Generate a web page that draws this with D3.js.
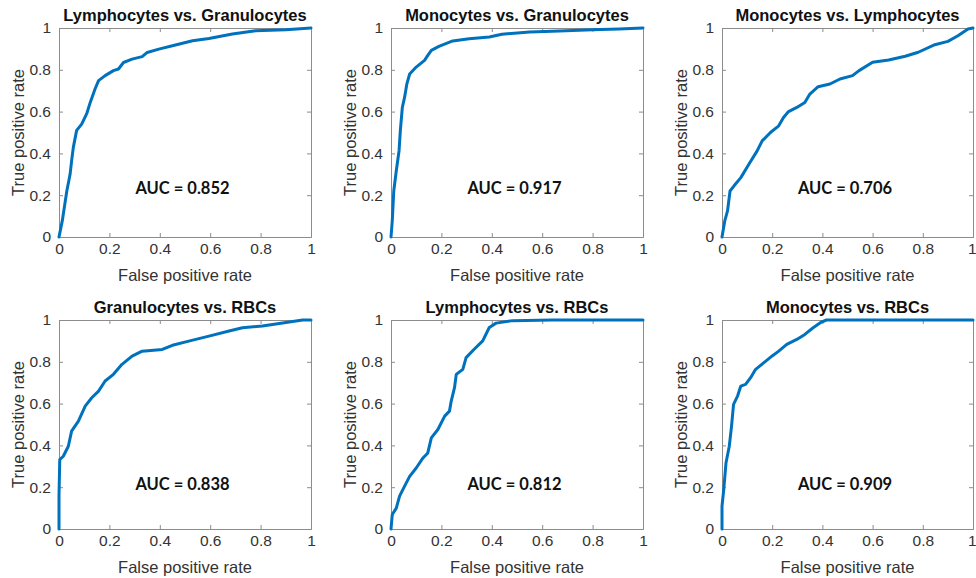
<!DOCTYPE html>
<html>
<head>
<meta charset="utf-8">
<script src="https://cdn.jsdelivr.net/npm/d3@7"></script>
<style>
  body { margin: 0; background: #fff; }
  svg { display: block; }
</style>
</head>
<body>
<div id="roc"></div>
<script>
// 1. DATA
const titles = [
    "Lymphocytes vs. Granulocytes",
    "Monocytes vs. Granulocytes",
    "Monocytes vs. Lymphocytes",
    "Granulocytes vs. RBCs",
    "Lymphocytes vs. RBCs",
    "Monocytes vs. RBCs"
]
const aucValues = ["0.852", "0.917", "0.706", "0.838", "0.812", "0.909"]
const tickValues = [0, 0.2, 0.4, 0.6, 0.8, 1]

const lymGranFpr = [0, 0.013, 0.031, 0.044, 0.05, 0.057, 0.07, 0.09, 0.11, 0.124, 0.143, 0.157, 0.183, 0.216, 0.236, 0.256, 0.29, 0.33, 0.35, 0.396, 0.45, 0.53, 0.595, 0.688, 0.78, 0.9, 1]
const lymGranTpr = [0, 0.077, 0.22, 0.30, 0.364, 0.43, 0.51, 0.54, 0.59, 0.644, 0.708, 0.748, 0.772, 0.796, 0.804, 0.835, 0.851, 0.863, 0.883, 0.899, 0.915, 0.939, 0.95, 0.971, 0.987, 0.992, 1]

const monoGranFpr = [0, 0.005, 0.011, 0.021, 0.032, 0.037, 0.045, 0.054, 0.063, 0.074, 0.1, 0.133, 0.146, 0.16, 0.19, 0.245, 0.31, 0.39, 0.44, 0.55, 0.668, 0.8, 0.905, 1]
const monoGranTpr = [0, 0.077, 0.22, 0.317, 0.413, 0.509, 0.62, 0.669, 0.733, 0.78, 0.813, 0.845, 0.869, 0.893, 0.912, 0.938, 0.949, 0.957, 0.97, 0.981, 0.986, 0.992, 0.995, 1]

const monoLymFpr = [0, 0.011, 0.022, 0.032, 0.048, 0.075, 0.107, 0.14, 0.16, 0.193, 0.226, 0.245, 0.265, 0.298, 0.33, 0.35, 0.383, 0.43, 0.47, 0.52, 0.546, 0.6, 0.664, 0.73, 0.782, 0.848, 0.9, 0.94, 0.98, 1]
const monoLymTpr = [0, 0.077, 0.125, 0.22, 0.245, 0.284, 0.348, 0.412, 0.46, 0.5, 0.532, 0.572, 0.6, 0.62, 0.644, 0.684, 0.719, 0.732, 0.756, 0.772, 0.796, 0.836, 0.847, 0.865, 0.884, 0.92, 0.936, 0.963, 0.995, 1]

const granRbcFpr = [0, 0, 0.003, 0.017, 0.037, 0.05, 0.077, 0.104, 0.13, 0.157, 0.183, 0.216, 0.25, 0.29, 0.33, 0.41, 0.45, 0.515, 0.595, 0.675, 0.728, 0.807, 0.914, 0.967, 1]
const granRbcTpr = [0, 0.157, 0.332, 0.348, 0.396, 0.468, 0.516, 0.588, 0.628, 0.66, 0.708, 0.74, 0.788, 0.827, 0.851, 0.859, 0.879, 0.899, 0.923, 0.947, 0.963, 0.971, 0.99, 1, 1]

const lymRbcFpr = [0, 0.005, 0.021, 0.034, 0.054, 0.074, 0.1, 0.127, 0.146, 0.16, 0.186, 0.213, 0.232, 0.239, 0.252, 0.259, 0.285, 0.298, 0.33, 0.364, 0.39, 0.417, 0.483, 0.64, 1]
const lymRbcTpr = [0, 0.069, 0.1, 0.157, 0.205, 0.252, 0.292, 0.34, 0.364, 0.436, 0.476, 0.54, 0.564, 0.612, 0.676, 0.74, 0.764, 0.82, 0.86, 0.9, 0.964, 0.985, 0.997, 1, 1]

const monoRbcFpr = [0, 0, 0.007, 0.016, 0.029, 0.038, 0.046, 0.062, 0.075, 0.094, 0.114, 0.134, 0.167, 0.2, 0.226, 0.258, 0.298, 0.33, 0.363, 0.396, 0.416, 1]
const monoRbcTpr = [0, 0.109, 0.189, 0.317, 0.396, 0.492, 0.596, 0.636, 0.684, 0.692, 0.724, 0.764, 0.796, 0.828, 0.851, 0.883, 0.907, 0.931, 0.963, 0.99, 1, 1]

const curves = [
    [lymGranFpr, lymGranTpr],
    [monoGranFpr, monoGranTpr],
    [monoLymFpr, monoLymTpr],
    [granRbcFpr, granRbcTpr],
    [lymRbcFpr, lymRbcTpr],
    [monoRbcFpr, monoRbcTpr]
]

// 2. DIMENSIONS
const dimensions = {
    width: 976,
    height: 578,
    plotWidth: 252,
    plotHeight: 209,
    lefts: [59, 391, 722],
    tops: [28, 320]
}

// 3. DRAW CANVAS
const wrapper = d3.select("#roc")
    .append("svg")
    .attr("width", dimensions.width)
    .attr("height", dimensions.height)

const axisColor = "#8c8c8c"
const textColor = "#333"
const lineColor = "#0072BD"
const sans = "Liberation Sans, Arial, sans-serif"

curves.forEach(([fpr, tpr], i) => {
    const col = i % 3
    const row = Math.floor(i / 3)
    const w = col === 2 ? dimensions.plotWidth - 1 : dimensions.plotWidth
    const h = dimensions.plotHeight

    const bounds = wrapper.append("g")
        .attr("transform", `translate(${dimensions.lefts[col]},${dimensions.tops[row]})`)

    // 4. SCALES
    const xScale = d3.scaleLinear().domain([0, 1]).range([0, w])
    const yScale = d3.scaleLinear().domain([0, 1]).range([h, 0])

    // 6. PERIPHERALS (box + inward ticks on all sides)
    const fmt = d => d === 0 || d === 1 ? String(d) : d3.format(".1f")(d)

    const xAxis = bounds.append("g")
        .attr("transform", `translate(0,${h})`)
        .call(d3.axisBottom(xScale).tickValues(tickValues).tickSize(-4).tickPadding(6).tickFormat(fmt))
    const yAxis = bounds.append("g")
        .call(d3.axisLeft(yScale).tickValues(tickValues).tickSize(-4).tickPadding(8).tickFormat(fmt))
    const xTop = bounds.append("g")
        .call(d3.axisTop(xScale).tickValues(tickValues).tickSize(-4).tickFormat(""))
    const yRight = bounds.append("g")
        .attr("transform", `translate(${w},0)`)
        .call(d3.axisRight(yScale).tickValues(tickValues).tickSize(-4).tickFormat(""))

    ;[xAxis, yAxis, xTop, yRight].forEach(a => {
        a.select(".domain").attr("stroke", axisColor).attr("stroke-width", 1)
        a.selectAll(".tick line").attr("stroke", axisColor)
        a.selectAll(".tick text")
            .attr("fill", textColor)
            .style("font-family", sans)
            .style("font-size", "15.5px")
    })

    // last panel column sits on the page edge: keep its "1" inside
    if (col === 2) {
        xAxis.selectAll(".tick text")
            .filter(d => d === 1)
            .attr("text-anchor", "end")
            .attr("x", 3)
    }

    // 5. DRAW DATA
    const points = fpr.map((x, k) => [x, tpr[k]])
    const lineGenerator = d3.line()
        .x(d => xScale(d[0]))
        .y(d => yScale(d[1]))

    bounds.append("path")
        .datum(points)
        .attr("d", lineGenerator)
        .attr("fill", "none")
        .attr("stroke", lineColor)
        .attr("stroke-width", 3)
        .attr("stroke-linejoin", "round")
        .attr("stroke-linecap", "round")

    // labels
    bounds.append("text")
        .attr("x", w / 2)
        .attr("y", -7)
        .attr("text-anchor", "middle")
        .attr("fill", "#111")
        .style("font-family", sans)
        .style("font-weight", "bold")
        .style("font-size", "16.5px")
        .text(titles[i])

    bounds.append("text")
        .attr("x", w / 2)
        .attr("y", h + 44)
        .attr("text-anchor", "middle")
        .attr("fill", textColor)
        .style("font-family", sans)
        .style("font-size", "16.5px")
        .text("False positive rate")

    bounds.append("text")
        .attr("transform", `translate(${-35},${h / 2}) rotate(-90)`)
        .attr("text-anchor", "middle")
        .attr("fill", textColor)
        .style("font-family", sans)
        .style("font-size", "16.5px")
        .text("True positive rate")

    bounds.append("text")
        .attr("x", xScale(0.49))
        .attr("y", yScale(row === 0 ? 0.235 : 0.215))
        .attr("dy", "0.35em")
        .attr("text-anchor", "middle")
        .attr("fill", "#111")
        .style("font-family", "Lato, Carlito, sans-serif")
        .style("font-weight", "bold")
        .style("font-size", "16.5px")
        .text(`AUC = ${aucValues[i]}`)
})
</script>
</body>
</html>
